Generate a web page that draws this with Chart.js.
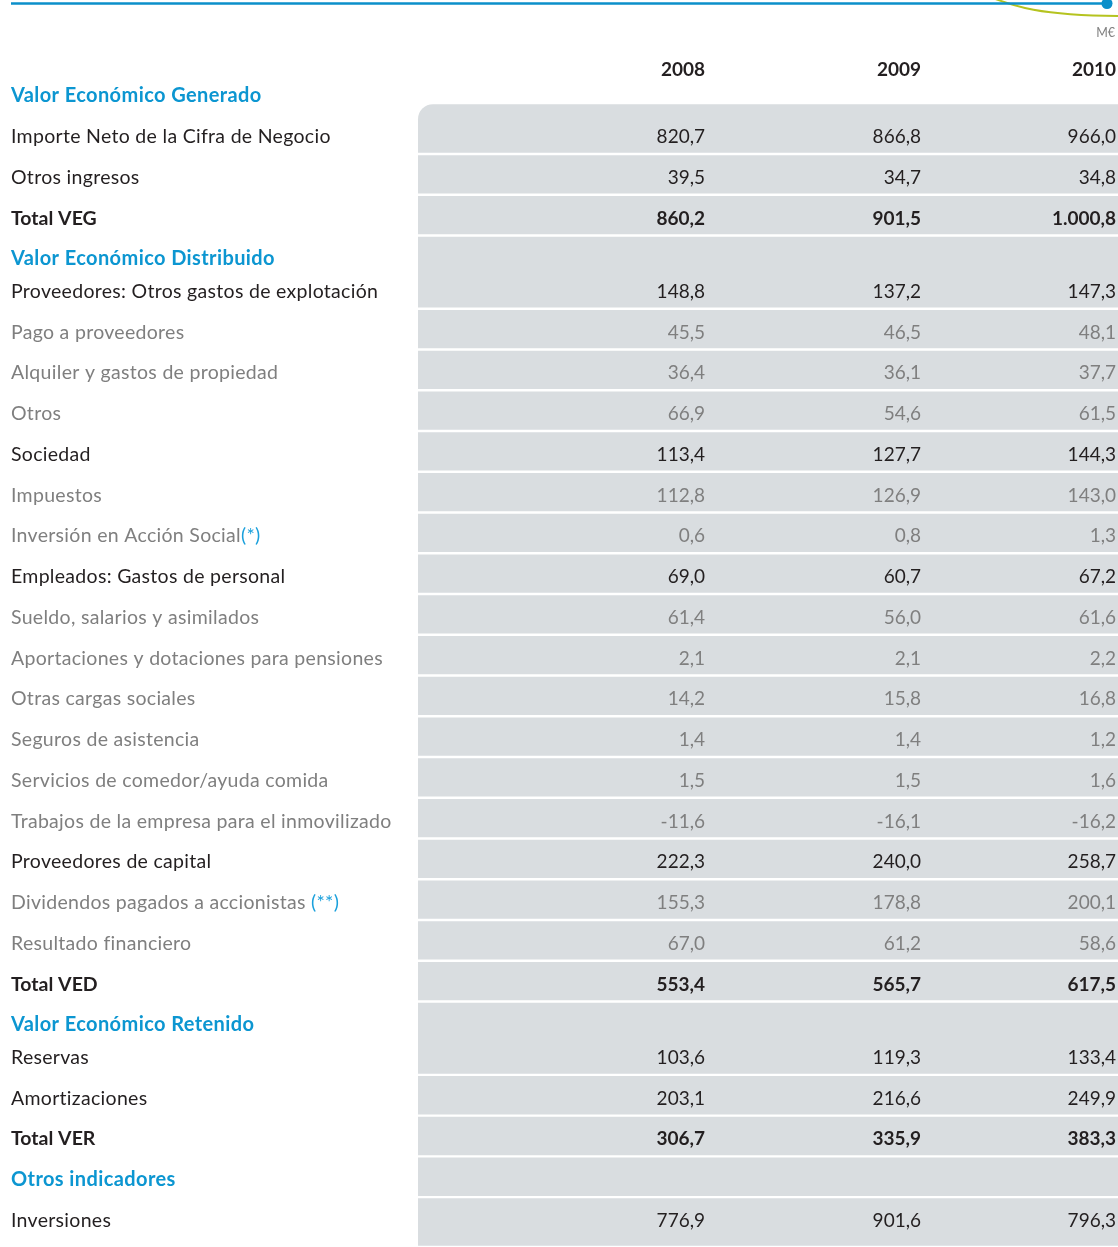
<!DOCTYPE html>
<html>
<head>
<meta charset="utf-8">
<script src="https://cdn.jsdelivr.net/npm/chart.js@4.4.0/dist/chart.umd.min.js"></script>
<style>
  html, body { margin: 0; padding: 0; background: #fff; }
  #wrap { width: 1118px; height: 1247px; }
</style>
</head>
<body>
<div id="wrap"><canvas id="vegChart"></canvas></div>
<script>
const years = ['2008', '2009', '2010'];
const unitLabel = 'M€';

const rowLabels = [
  'Valor Económico Generado',
  'Importe Neto de la Cifra de Negocio',
  'Otros ingresos',
  'Total VEG',
  'Valor Económico Distribuido',
  'Proveedores: Otros gastos de explotación',
  'Pago a proveedores',
  'Alquiler y gastos de propiedad',
  'Otros',
  'Sociedad',
  'Impuestos',
  'Inversión en Acción Social(*)',
  'Empleados: Gastos de personal',
  'Sueldo, salarios y asimilados',
  'Aportaciones y dotaciones para pensiones',
  'Otras cargas sociales',
  'Seguros de asistencia',
  'Servicios de comedor/ayuda comida',
  'Trabajos de la empresa para el inmovilizado',
  'Proveedores de capital',
  'Dividendos pagados a accionistas (**)',
  'Resultado financiero',
  'Total VED',
  'Valor Económico Retenido',
  'Reservas',
  'Amortizaciones',
  'Total VER',
  'Otros indicadores',
  'Inversiones'
];

// h0 = header without cell, hm = header sharing cell with next row, h = header with own cell
// m = main row, s = sub row (grey), t = total (bold)
const rowKinds = ['h0', 'm', 'm', 't', 'hm', 'm', 's', 's', 's', 'm', 's', 's', 'm', 's', 's', 's', 's', 's', 's', 'm', 's', 's', 't', 'hm', 'm', 'm', 't', 'h', 'm'];

const values2008 = [null, 820.7, 39.5, 860.2, null, 148.8, 45.5, 36.4, 66.9, 113.4, 112.8, 0.6, 69.0, 61.4, 2.1, 14.2, 1.4, 1.5, -11.6, 222.3, 155.3, 67.0, 553.4, null, 103.6, 203.1, 306.7, null, 776.9];
const values2009 = [null, 866.8, 34.7, 901.5, null, 137.2, 46.5, 36.1, 54.6, 127.7, 126.9, 0.8, 60.7, 56.0, 2.1, 15.8, 1.4, 1.5, -16.1, 240.0, 178.8, 61.2, 565.7, null, 119.3, 216.6, 335.9, null, 901.6];
const values2010 = [null, 966.0, 34.8, 1000.8, null, 147.3, 48.1, 37.7, 61.5, 144.3, 143.0, 1.3, 67.2, 61.6, 2.2, 16.8, 1.2, 1.6, -16.2, 258.7, 200.1, 58.6, 617.5, null, 133.4, 249.9, 383.3, null, 796.3];

// layout
const W = 1118, H = 1247;
const rowPitch = 40.75, firstRowY = 136;
const colRight = [705, 921, 1116];
const labelX = 11, cellLeft = 418;
const BLUE = '#0c96d1', DARK = '#231f20', GREY = '#7f7f7f', CELL = '#d9dde0';
const FONT = 'Lato, "Open Sans", sans-serif';

// row positions in row units
const rowPos = [];
rowKinds.forEach((k, i) => {
  rowPos.push(i === 0 ? -1 : rowPos[i - 1] + (rowKinds[i - 1] === 'hm' ? 0.8 : 1));
});

function fmt(n) {
  const parts = Math.abs(n).toFixed(1).split('.');
  const int = parts[0].replace(/\B(?=(\d{3})+(?!\d))/g, '.');
  return (n < 0 ? '-' : '') + int + ',' + parts[1];
}

const series = [values2008, values2009, values2010];

const tablePlugin = {
  id: 'tablePlugin',
  beforeDatasetsDraw(chart) {
    const { ctx, scales: { y } } = chart;
    ctx.save();

    // top decoration
    ctx.strokeStyle = '#b5c31f';
    ctx.lineWidth = 2;
    ctx.beginPath();
    ctx.moveTo(985, -5);
    ctx.bezierCurveTo(1015, 7, 1040, 15.5, 1118, 16);
    ctx.stroke();
    ctx.strokeStyle = '#0b8fca';
    ctx.lineWidth = 2.5;
    ctx.beginPath();
    ctx.moveTo(11, 3.5);
    ctx.lineTo(1107, 3.5);
    ctx.stroke();
    ctx.fillStyle = '#0b8fca';
    ctx.beginPath();
    ctx.arc(1107, 3.5, 5.5, 0, Math.PI * 2);
    ctx.fill();

    ctx.fillStyle = '#808080';
    ctx.font = '12.5px ' + FONT;
    ctx.textAlign = 'right';
    ctx.textBaseline = 'alphabetic';
    ctx.fillText(unitLabel, 1115, 37);

    // year headings
    ctx.fillStyle = DARK;
    ctx.font = 'bold 19px ' + FONT;
    years.forEach((yr, j) => ctx.fillText(yr, colRight[j], y.getPixelForValue(-1.65) + 7));

    // cells
    ctx.fillStyle = CELL;
    rowKinds.forEach((k, i) => {
      if (k === 'h0' || rowKinds[i - 1] === 'hm') return;
      const topV = i === 1 ? rowPos[i] - 0.81 : rowPos[i - 1] + 0.44;
      const endRow = k === 'hm' ? i + 1 : i;
      const bottomV = endRow === rowKinds.length - 1 ? y.max : rowPos[endRow] + 0.44;
      const top = y.getPixelForValue(topV) + 1.2;
      const bottom = y.getPixelForValue(bottomV) - 1.2;
      ctx.beginPath();
      if (i === 1) ctx.roundRect(cellLeft, top, W - cellLeft, bottom - top, [15, 0, 0, 0]);
      else ctx.rect(cellLeft, top, W - cellLeft, bottom - top);
      ctx.fill();
    });

    // row labels
    ctx.textAlign = 'left';
    rowLabels.forEach((lab, i) => {
      const k = rowKinds[i];
      const py = y.getPixelForValue(rowPos[i]) + 7;
      const isHead = k[0] === 'h';
      if (isHead) { ctx.font = 'bold 20px ' + FONT; ctx.letterSpacing = '0.4px'; }
      else if (k === 't') { ctx.font = 'bold 19.5px ' + FONT; ctx.letterSpacing = '0px'; }
      else { ctx.font = '19.5px ' + FONT; ctx.letterSpacing = '0.3px'; }
      ctx.fillStyle = isHead ? BLUE : (k === 's' ? GREY : DARK);
      const cut = lab.indexOf('(');
      const main = cut >= 0 ? lab.slice(0, cut) : lab;
      ctx.fillText(main, labelX, py);
      if (cut >= 0) {
        const w = ctx.measureText(main).width;
        ctx.fillStyle = '#1aa0dc';
        ctx.fillText(lab.slice(cut), labelX + w, py);
      }
    });
    ctx.letterSpacing = '0px';
    ctx.restore();
  },
  afterDatasetsDraw(chart) {
    const { ctx } = chart;
    ctx.save();
    ctx.textAlign = 'right';
    ctx.textBaseline = 'alphabetic';
    chart.data.datasets.forEach((ds, j) => {
      chart.getDatasetMeta(j).data.forEach((el, n) => {
        const p = ds.data[n];
        const k = rowKinds[p.row];
        ctx.font = (k === 't' ? 'bold ' : '') + '19px ' + FONT;
        ctx.fillStyle = k === 's' ? GREY : DARK;
        ctx.fillText(fmt(p.v), el.x, el.y + 7);
      });
    });
    ctx.restore();
  }
};

new Chart(document.getElementById('vegChart'), {
  type: 'scatter',
  data: {
    datasets: years.map((yr, j) => ({
      label: yr,
      data: series[j]
        .map((v, i) => ({ x: colRight[j], y: rowPos[i], v: v, row: i }))
        .filter(p => p.v !== null),
      pointRadius: 0,
      pointHoverRadius: 0
    }))
  },
  options: {
    responsive: true,
    maintainAspectRatio: false,
    animation: false,
    layout: { padding: 0 },
    events: [],
    plugins: { legend: { display: false }, tooltip: { enabled: false } },
    scales: {
      x: { type: 'linear', display: false, min: 0, max: W },
      y: { type: 'linear', display: false, reverse: true,
           min: -firstRowY / rowPitch, max: (H - firstRowY) / rowPitch }
    }
  },
  plugins: [tablePlugin]
});
</script>
</body>
</html>
